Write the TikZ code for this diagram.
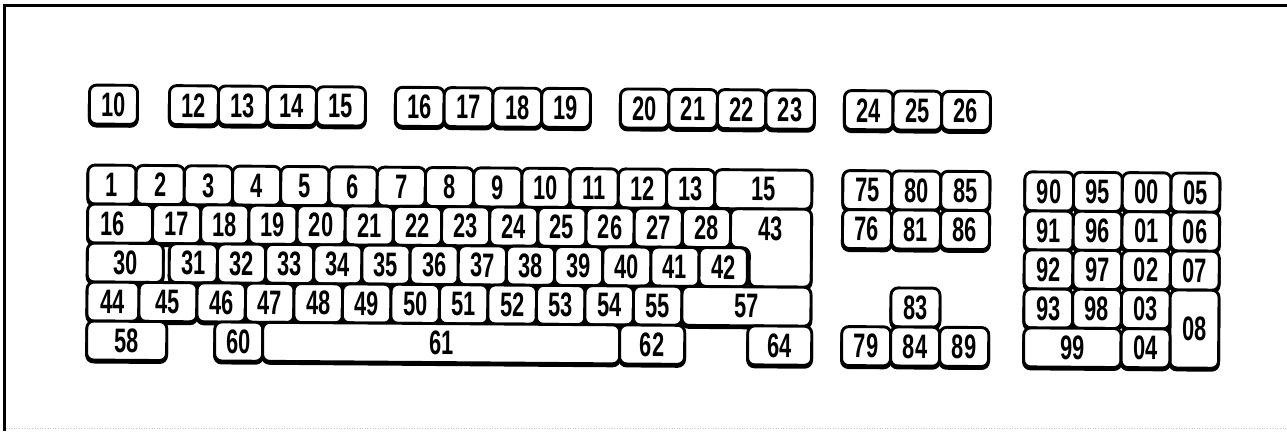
\documentclass[tikz,border=0pt]{standalone}
\usepackage{fontspec}
\newfontfamily\keyfont{Liberation Sans}[FakeStretch=0.64]
\tikzset{
  key/.style={draw, fill=white, line width=2.9pt, rounded corners=7pt, inner sep=0pt, outer sep=0pt,
    font=\keyfont\fontsize{34pt}{34pt}\selectfont\bfseries},
  keyshadow/.style={draw, fill, line width=2.9pt, rounded corners=7pt},
  keyline/.style={draw, fill=white, line width=2.9pt, rounded corners=7pt},
  keylabel/.style={inner sep=0pt, font=\keyfont\fontsize{34pt}{34pt}\selectfont\bfseries},
  frametop/.style={line width=3pt},
  frameleft/.style={line width=2.4pt},
  framebottom/.style={gray!45, dotted, line width=0.6pt}
}
\newcommand\kb[6]{%
  \pgfmathsetmacro\kbw{#3-#2}%
  \pgfmathsetmacro\kbh{#5-#4}%
  \pgfmathsetmacro\kbx{(#2+#3)/2}%
  \pgfmathsetmacro\kby{(#4+#5)/2}%
  \path[keyshadow] (#2,{#4+2}) rectangle (#3,{#5+2});%
  \node[key, minimum width=\kbw pt, minimum height=\kbh pt] (#1) at (\kbx,\kby) {#6};%
}
\begin{document}
\begin{tikzpicture}[x=1pt,y=-1pt]
\useasboundingbox (0,0) rectangle (1287,431);
% frame
\draw[frametop] (3,5.5) -- (1287,5.5);
\draw[frameleft] (4.5,5.5) -- (4.5,431);
\draw[framebottom] (6,428) -- (1287,428);

\begin{scope}[rotate around={-0.42:(88,165)}, transform shape]
% ---------- function row ----------
\kb{f10}{89}{137}{85}{124}{10}
\foreach \lab [count=\i from 0] in {12,13,14,15}{%
  \pgfmathsetmacro\xa{169+\i*49}\pgfmathsetmacro\xb{169+(\i+1)*49}%
  \kb{f\lab}{\xa}{\xb}{85}{124}{\lab}}
\foreach \lab [count=\i from 0] in {16,17,18,19}{%
  \pgfmathsetmacro\xa{395+\i*48.75}\pgfmathsetmacro\xb{395+(\i+1)*48.75}%
  \kb{f\lab}{\xa}{\xb}{85}{124}{\lab}}
\foreach \lab [count=\i from 0] in {20,21,22,23}{%
  \pgfmathsetmacro\xa{620+\i*48.5}\pgfmathsetmacro\xb{620+(\i+1)*48.5}%
  \kb{f\lab}{\xa}{\xb}{85}{124}{\lab}}
\foreach \lab [count=\i from 0] in {24,25,26}{%
  \pgfmathsetmacro\xa{844+\i*48.67}\pgfmathsetmacro\xb{844+(\i+1)*48.67}%
  \kb{f\lab}{\xa}{\xb}{85}{124}{\lab}}

% ---------- main block row 1 ----------
\foreach \lab [count=\i from 0] in {1,2,3,4,5,6,7,8,9,10,11,12,13}{%
  \pgfmathsetmacro\xa{88+\i*48.23}\pgfmathsetmacro\xb{88+(\i+1)*48.23}%
  \kb{m\lab}{\xa}{\xb}{165}{204}{\lab}}
\kb{m15}{715}{812}{165}{204}{15}

% ---------- row 2 ----------
\kb{m16}{88}{153}{204}{243}{\kern-14pt 16}
\foreach \lab [count=\i from 0] in {17,18,19,20,21,22,23,24,25,26,27,28}{%
  \pgfmathsetmacro\xa{153+\i*48.17}\pgfmathsetmacro\xb{153+(\i+1)*48.17}%
  \kb{m\lab}{\xa}{\xb}{204}{243}{\lab}}
% enter key (L-shaped)
\path[keyshadow] (731,206) -- (812,206) -- (812,284) -- (750,284) -- (750,245) -- (731,245) -- cycle;
\path[keyline] (731,204) -- (812,204) -- (812,282) -- (750,282) -- (750,243) -- (731,243) -- cycle;
\node[keylabel] (m43) at (771.5,223.5) {43};

% ---------- row 3 ----------
\kb{m30}{88}{164}{243}{282}{30}
\foreach \lab [count=\i from 0] in {31,32,33,34,35,36,37,38,39,40,41,42}{%
  \pgfmathsetmacro\xa{170+\i*48.17}\pgfmathsetmacro\xb{170+(\i+1)*48.17}%
  \kb{m\lab}{\xa}{\xb}{243}{282}{\lab}}

% ---------- row 4 ----------
\kb{m44}{88}{140}{282}{321}{44}
\kb{m45}{140}{198}{282}{321}{45}
\foreach \lab [count=\i from 0] in {46,47,48,49,50,51,52,53,54,55}{%
  \pgfmathsetmacro\xa{198+\i*48.5}\pgfmathsetmacro\xb{198+(\i+1)*48.5}%
  \kb{m\lab}{\xa}{\xb}{282}{321}{\lab}}
\kb{m57}{683}{812}{282}{321}{57}

% ---------- row 5 ----------
\kb{m58}{88}{168}{321}{360}{58}
\kb{m60}{216}{264}{321}{360}{60}
\kb{m61}{264}{621}{321}{360}{61}
\kb{m62}{621}{686}{321}{360}{62}
\kb{m64}{749}{813}{321}{360}{64}

% ---------- navigation cluster ----------
\kb{n75}{843}{892}{165}{204}{75}
\kb{n80}{892}{941}{165}{204}{80}
\kb{n85}{941}{990}{165}{204}{85}
\kb{n76}{843}{892}{204}{243}{76}
\kb{n81}{892}{941}{204}{243}{81}
\kb{n86}{941}{990}{204}{243}{86}
\kb{n83}{892}{941}{282}{321}{83}
\kb{n79}{843}{892}{321}{360}{79}
\kb{n84}{892}{941}{321}{360}{84}
\kb{n89}{941}{990}{321}{360}{89}

% ---------- numeric pad ----------
\kb{p90}{1025}{1073.75}{165}{204}{90}
\kb{p95}{1073.75}{1122.5}{165}{204}{95}
\kb{p00}{1122.5}{1171.25}{165}{204}{00}
\kb{p05}{1171.25}{1220}{165}{204}{05}
\kb{p91}{1025}{1073.75}{204}{243}{91}
\kb{p96}{1073.75}{1122.5}{204}{243}{96}
\kb{p01}{1122.5}{1171.25}{204}{243}{01}
\kb{p06}{1171.25}{1220}{204}{243}{06}
\kb{p92}{1025}{1073.75}{243}{282}{92}
\kb{p97}{1073.75}{1122.5}{243}{282}{97}
\kb{p02}{1122.5}{1171.25}{243}{282}{02}
\kb{p07}{1171.25}{1220}{243}{282}{07}
\kb{p93}{1025}{1073.75}{282}{321}{93}
\kb{p98}{1073.75}{1122.5}{282}{321}{98}
\kb{p03}{1122.5}{1171.25}{282}{321}{03}
\kb{p08}{1171.25}{1220}{282}{360}{08}
\kb{p99}{1025}{1122.5}{321}{360}{99}
\kb{p04}{1122.5}{1171.25}{321}{360}{04}
\end{scope}
\end{tikzpicture}
\end{document}
